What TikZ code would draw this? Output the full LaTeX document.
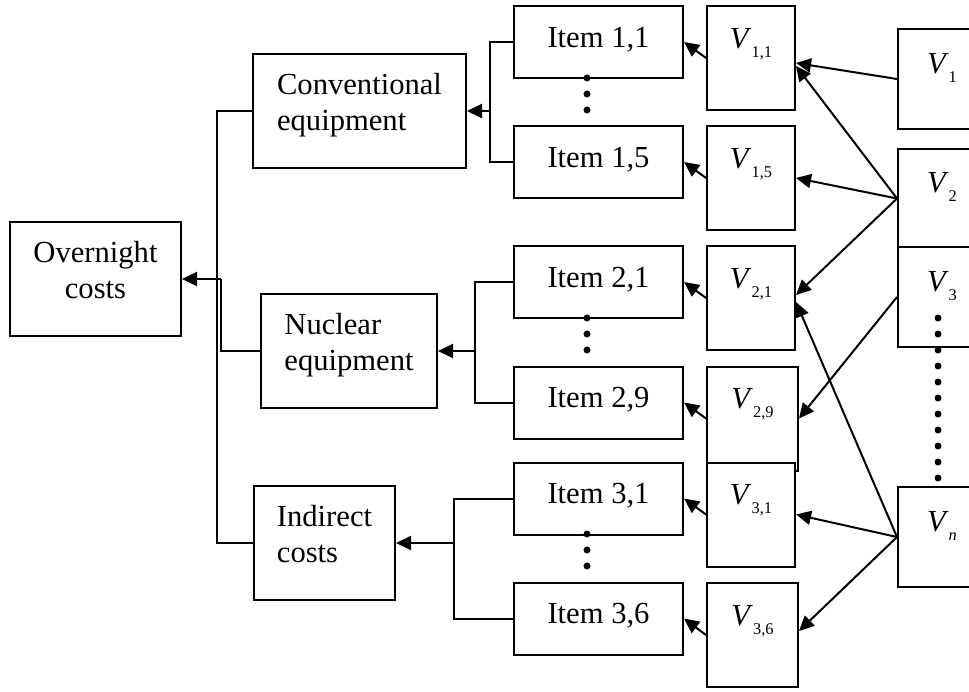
\documentclass[tikz,border=0pt]{standalone}
\usepackage{fontspec}
\setmainfont{Liberation Serif}
\usetikzlibrary{arrows.meta,positioning}
\newcommand{\diagfont}{\fontsize{15.3}{18}\selectfont}
\newcommand{\varsym}[1]{\textit{V}\raisebox{-0.3em}{\fontsize{8.2}{9}\selectfont #1}}
\tikzset{
  costnode/.style={draw, fill=white, line width=1pt, minimum height=57pt,
    font=\diagfont, text height=28pt, text depth=9pt, align=left},
  itemnode/.style={draw, fill=white, line width=1pt, minimum width=84.5pt,
    minimum height=36pt, font=\diagfont, text height=10pt, text depth=5pt},
  varnode/.style={draw, fill=white, line width=1pt, minimum width=44pt,
    minimum height=52pt, font=\diagfont, text height=10pt, text depth=20pt},
  srcnode/.style={varnode, minimum height=50pt, text depth=16pt},
  link/.style={line width=1pt},
  flow/.style={-{Triangle[length=7.5pt, width=7pt]}, line width=1pt},
  dot/.style={radius=1.75pt}
}
\begin{document}
\begin{tikzpicture}[x=0.5pt, y=-0.5pt]
  \useasboundingbox (0,0) rectangle (969,691);
  \clip (0,0) rectangle (969,691);
  % cost categories
  \node[costnode, align=center, minimum width=85.5pt] (overnight) at (95.5,279) {Overnight\\costs};
  \node[costnode, minimum width=106.5pt] (conv) at (359.5,111) {Conventional\\equipment};
  \node[costnode, minimum width=88pt] (nuclear) at (349,351) {Nuclear\\equipment};
  \node[costnode, minimum width=70.5pt] (indirect) at (324.5,543) {Indirect\\costs};
  % items
  \node[itemnode] (i11) at (598.5,42) {Item 1,1};
  \node[itemnode] (i15) at (598.5,162) {Item 1,5};
  \node[itemnode] (i21) at (598.5,282) {Item 2,1};
  \node[itemnode] (i29) at (598.5,402.5) {Item 2,9};
  \node[itemnode] (i31) at (598.5,498.5) {Item 3,1};
  \node[itemnode] (i36) at (598.5,618.5) {Item 3,6};
  % item variables
  \node[varnode] (v11) at (751,58) {\varsym{1,1}};
  \node[varnode] (v15) at (751,178) {\varsym{1,5}};
  \node[varnode] (v21) at (751,298) {\varsym{2,1}};
  \node[varnode, minimum width=45.5pt] (v29) at (752.5,418.5) {\varsym{2,9}};
  \node[varnode] (v31) at (751,514.5) {\varsym{3,1}};
  \node[varnode, minimum width=45.5pt] (v36) at (752.5,635) {\varsym{3,6}};
  % source variables
  \node[srcnode] (s1) at (942,79) {\varsym{1}};
  \node[srcnode] (s2) at (942,198.5) {\varsym{2}};
  \node[srcnode] (s3) at (942,297) {\varsym{3}};
  \node[srcnode] (sn) at (942,537) {\varsym{\textit{n}}};
  % junctions
  \coordinate (jtop) at (217,300);
  \coordinate (jover) at (221,279);
  \coordinate (jconv) at (490,111);
  \coordinate (jnuc) at (475,351);
  \coordinate (jind) at (454,543);
  % tree
  \draw[link] (conv.west) -| (jtop) |- (indirect.west);
  \draw[link] (nuclear.west) -| (jover);
  \draw[flow] (jover) -- (overnight.east);
  \draw[link] (i11.west) -| (jconv) |- (i15.west);
  \draw[flow] (jconv) -- (conv.east);
  \draw[link] (i21.west) -| (jnuc) |- (i29.west);
  \draw[flow] (jnuc) -- (nuclear.east);
  \draw[link] (i31.west) -| (jind) |- (i36.west);
  \draw[flow] (jind) -- (indirect.east);
  % variables to items
  \draw[flow] (v11.west) -- (i11.east);
  \draw[flow] (v15.west) -- (i15.east);
  \draw[flow] (v21.west) -- (i21.east);
  \draw[flow] (v29.west) -- (i29.east);
  \draw[flow] (v31.west) -- (i31.east);
  \draw[flow] (v36.west) -- (i36.east);
  % sources to variables
  \draw[flow] (s1.west) -- ([yshift=-2.5pt]v11.east);
  \draw[flow] (s2.west) -- ([yshift=-4pt]v11.east);
  \draw[flow] (s2.west) -- (v15.east);
  \draw[flow] (s2.west) -- ([yshift=1.5pt]v21.east);
  \draw[flow] (s3.west) -- (v29.east);
  \draw[flow] (sn.west) -- ([yshift=-2pt]v21.east);
  \draw[flow] (sn.west) -- (v31.east);
  \draw[flow] (sn.west) -- ([yshift=2pt]v36.east);
  % ellipsis dots
  \foreach \y in {78,94,110,318,334,350,534,550,566}
    \fill (587,\y) circle[dot];
  \foreach \y in {318,334,...,478}
    \fill (938,\y) circle[dot];
\end{tikzpicture}
\end{document}
